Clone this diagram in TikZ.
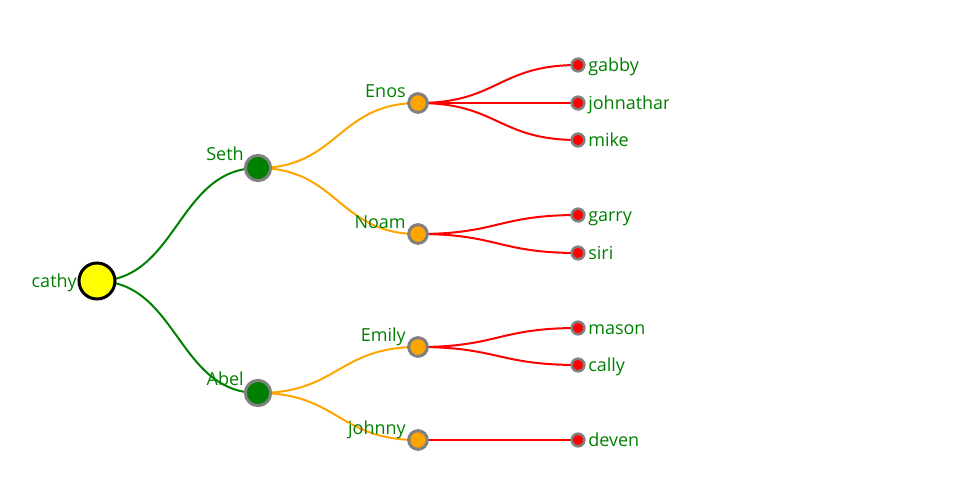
\documentclass[tikz,border=0pt]{standalone}
\usepackage{fontspec}
\setmainfont{Open Sans}
\usetikzlibrary{backgrounds}
\definecolor{lgreen}{RGB}{0,128,0}
\definecolor{lorange}{RGB}{255,165,0}
\definecolor{lred}{RGB}{255,0,0}
\definecolor{lgray}{RGB}{128,128,128}
\definecolor{lyellow}{RGB}{255,255,0}
\tikzset{
  rootnode/.style={circle,inner sep=0pt,minimum size=27,fill=lyellow,draw=black,line width=2.25pt},
  lvlone/.style={circle,inner sep=0pt,minimum size=19,fill=lgreen,draw=lgray,line width=2.25pt},
  lvltwo/.style={circle,inner sep=0pt,minimum size=14,fill=lorange,draw=lgray,line width=2.25pt},
  leafnode/.style={circle,inner sep=0pt,minimum size=9.5,fill=lred,draw=lgray,line width=1.9pt},
  lbl/.style={inner sep=0pt,text=lgreen,font=\fontsize{13.5pt}{16pt}\selectfont},
  lbll/.style={lbl,anchor=base east},
  lblr/.style={lbl,anchor=base west},
  link/.style={line width=1.5pt},
}
\begin{document}
\begin{tikzpicture}[x=0.75pt,y=-0.75pt]
\useasboundingbox (0,0) rectangle (960,500);
\begin{scope}
\clip (0,0) rectangle (668,500);
% nodes
\node[rootnode] (cathy) at (97,281) {};
\node[lvlone] (seth) at (258,168) {};
\node[lvlone] (abel) at (258,393) {};
\node[lvltwo] (enos) at (418,103) {};
\node[lvltwo] (noam) at (418,234) {};
\node[lvltwo] (emily) at (418,347) {};
\node[lvltwo] (johnny) at (418,440) {};
\node[leafnode] (gabby) at (578,65) {};
\node[leafnode] (johnathan) at (578,103) {};
\node[leafnode] (mike) at (578,140) {};
\node[leafnode] (garry) at (578,215) {};
\node[leafnode] (siri) at (578,253) {};
\node[leafnode] (mason) at (578,328) {};
\node[leafnode] (cally) at (578,365) {};
\node[leafnode] (deven) at (578,440) {};
% labels
\node[lbll] (tcathy) at ([shift={(-20,6)}]cathy.center) {cathy};
\node[lbll] (tseth) at ([shift={(-14,-8)}]seth.center) {Seth};
\node[lbll] (tabel) at ([shift={(-14,-8)}]abel.center) {Abel};
\node[lbll] (tenos) at ([shift={(-12,-6)}]enos.center) {Enos};
\node[lbll] (tnoam) at ([shift={(-12,-6)}]noam.center) {Noam};
\node[lbll] (temily) at ([shift={(-12,-6)}]emily.center) {Emily};
\node[lbll] (tjohnny) at ([shift={(-12,-6)}]johnny.center) {johnny};
\node[lblr] (tgabby) at ([shift={(10,6.5)}]gabby.center) {gabby};
\node[lblr] (tjohnathan) at ([shift={(10,6.5)}]johnathan.center) {johnathan};
\node[lblr] (tmike) at ([shift={(10,6.5)}]mike.center) {mike};
\node[lblr] (tgarry) at ([shift={(10,6.5)}]garry.center) {garry};
\node[lblr] (tsiri) at ([shift={(10,6.5)}]siri.center) {siri};
\node[lblr] (tmason) at ([shift={(10,6.5)}]mason.center) {mason};
\node[lblr] (tcally) at ([shift={(10,6.5)}]cally.center) {cally};
\node[lblr] (tdeven) at ([shift={(10,6.5)}]deven.center) {deven};
% links
\begin{scope}[on background layer]
\draw[link,lgreen] (cathy.center) .. controls +(80.5,0) and +(-80.5,0) .. (seth.center);
\draw[link,lgreen] (cathy.center) .. controls +(80.5,0) and +(-80.5,0) .. (abel.center);
\foreach \a/\b in {seth/enos,seth/noam,abel/emily,abel/johnny}
  \draw[link,lorange] (\a.center) .. controls +(80,0) and +(-80,0) .. (\b.center);
\foreach \a/\b in {enos/gabby,enos/johnathan,enos/mike,noam/garry,noam/siri,emily/mason,emily/cally,johnny/deven}
  \draw[link,lred] (\a.center) .. controls +(80,0) and +(-80,0) .. (\b.center);
\end{scope}
\end{scope}
\end{tikzpicture}
\end{document}
